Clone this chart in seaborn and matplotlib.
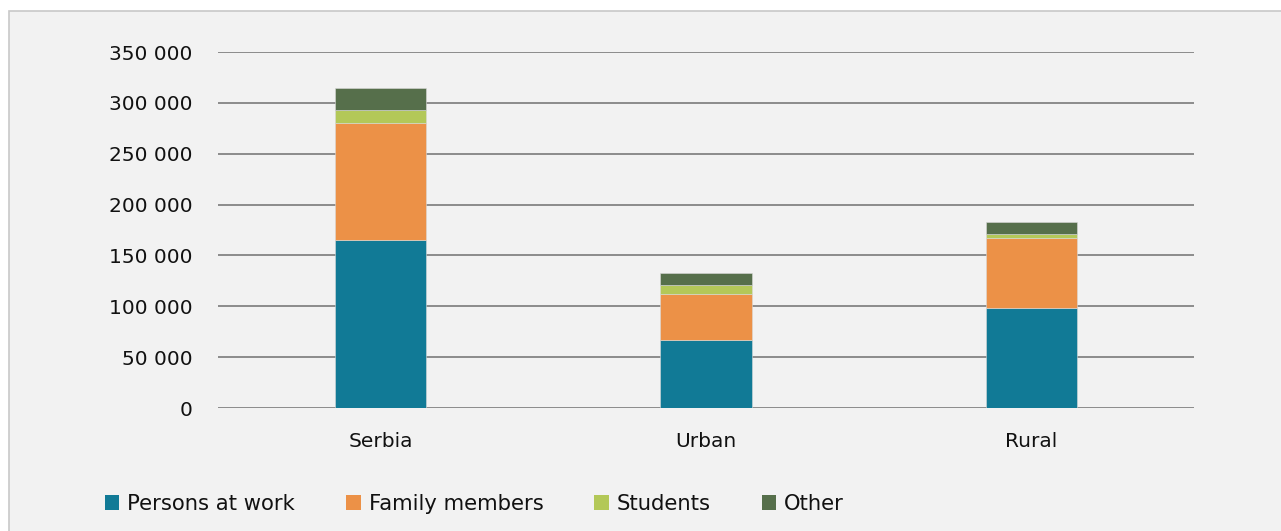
import matplotlib
matplotlib.use("Agg")
import matplotlib.pyplot as plt
from matplotlib.patches import Rectangle, Patch
from matplotlib.ticker import FuncFormatter
import seaborn as sns
import numpy as np

# Data (persons, by type of settlement)
categories = ["Serbia", "Urban", "Rural"]
series_names = ["Persons at work", "Family members", "Students", "Other"]
persons_at_work = [165000, 67000, 98000]
family_members = [115500, 45300, 69000]
students = [12200, 8200, 3900]
other = [21800, 11800, 11500]
y_ticks = [0, 50000, 100000, 150000, 200000, 250000, 300000, 350000]

colors = ["#117A96", "#EC9147", "#B3C858", "#566F4B"]

sns.set_theme(style="white")
plt.rcParams["font.family"] = ["DejaVu Sans"]
FS = 14.5
LFS = 15.2

W, H = 1281, 531
fig = plt.figure(figsize=(W / 100, H / 100), dpi=100, facecolor="white")

# Chart area panel with a light frame (top and left edges visible)
fig.patches.append(Rectangle((8.5 / W, -0.1), 1.2, 1.1 - 10.5 / H, transform=fig.transFigure,
                             facecolor="#F2F2F2", edgecolor="#C8C8C8", linewidth=1.2,
                             zorder=-10))

ax = fig.add_axes([218 / W, 1 - 408 / H, (1194 - 218) / W, (408 - 52) / H])
ax.set_facecolor("none")

stack = [persons_at_work, family_members, students, other]
bottom = np.zeros(len(categories))
for name, vals, col in zip(series_names, stack, colors):
    sns.barplot(x=categories, y=vals, bottom=bottom, color=col, width=0.28,
                saturation=1, edgecolor="#D9D9D9", linewidth=0.4, ax=ax, zorder=3)
    bottom = bottom + np.array(vals)

ax.set_ylim(0, 350000)
ax.set_xlim(-0.5, 2.5)
ax.set_yticks(y_ticks)
ax.yaxis.set_major_formatter(FuncFormatter(lambda v, p: f"{int(v):,}".replace(",", " ")))
ax.grid(axis="y", color="#8C8C8C", linewidth=1.4, zorder=0)
ax.set_axisbelow(True)
for s in ax.spines.values():
    s.set_visible(False)
ax.tick_params(axis="y", length=0, pad=18.5, labelsize=FS, labelcolor="#111111")
ax.tick_params(axis="x", length=0, pad=17, labelsize=FS, labelcolor="#111111")
ax.set_xlabel("")
ax.set_ylabel("")

handles = [Patch(facecolor=c, edgecolor="none") for c in colors]
fig.legend(handles, series_names, loc="center left",
           bbox_to_anchor=(105 / W, 1 - 504 / H), ncol=4, frameon=False,
           fontsize=LFS, handlelength=0.68, handleheight=0.68, handletextpad=0.38,
           columnspacing=2.42, borderpad=0, borderaxespad=0,
           labelcolor="#111111")

fig.savefig("out.png", dpi=100, facecolor="white")
